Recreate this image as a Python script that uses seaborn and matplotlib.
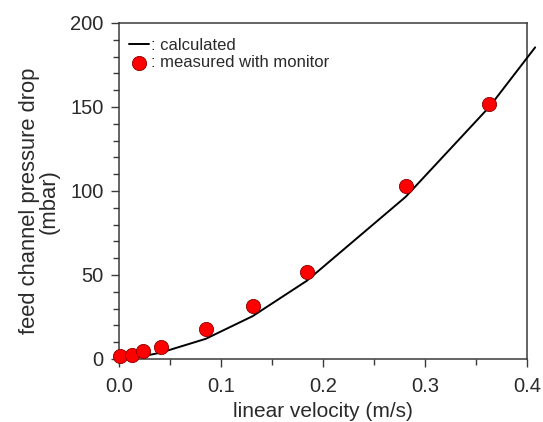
import seaborn as sns
import matplotlib.pyplot as plt
from matplotlib.ticker import MultipleLocator

# data
calc_velocity = [0.0, 0.013, 0.024, 0.041, 0.085, 0.131, 0.184, 0.281, 0.363, 0.408]
calc_pressure = [0.0, 0.8, 1.7, 3.8, 12.0, 25.5, 46.5, 96.5, 150.0, 185.5]

meas_velocity = [0.001, 0.013, 0.024, 0.041, 0.085, 0.131, 0.184, 0.281, 0.363]
meas_pressure = [2.0, 2.5, 4.5, 7.0, 18.0, 31.5, 52.0, 103.0, 151.5]

sns.set_theme(style="ticks")
plt.rcParams['font.family'] = ['Liberation Sans', 'DejaVu Sans']

txt = "#2a2a2a"
fig = plt.figure(figsize=(5.43, 4.22), dpi=100)
ax = fig.add_axes([119 / 543, 1 - 359 / 422, 408 / 543, 336 / 422])

sns.lineplot(x=calc_velocity, y=calc_pressure, ax=ax, color="black", lw=1.4,
             label=": calculated", clip_on=False, zorder=3, sort=False)
sns.scatterplot(x=meas_velocity, y=meas_pressure, ax=ax, color="#ff0000",
                edgecolor="#8a0000", linewidth=0.6, s=105, zorder=4,
                label=": measured with monitor", clip_on=False)

ax.set_xlim(0, 0.4)
ax.set_ylim(0, 200)
ax.xaxis.set_major_locator(MultipleLocator(0.1))
ax.xaxis.set_minor_locator(MultipleLocator(0.05))
ax.yaxis.set_major_locator(MultipleLocator(50))
ax.yaxis.set_minor_locator(MultipleLocator(10))
ax.xaxis.set_major_formatter(plt.FormatStrFormatter("%.1f"))

for s in ax.spines.values():
    s.set_visible(True)
    s.set_color("#3a3a3a")
    s.set_linewidth(1.1)

ax.tick_params(which="major", direction="out", length=6, width=1.0,
               color="#3a3a3a", labelsize=14.5, labelcolor=txt, pad=5)
ax.tick_params(which="minor", direction="out", length=4, width=1.0, color="#3a3a3a")
ax.tick_params(axis="x", which="major", pad=7)

ax.set_xlabel("linear velocity (m/s)", fontsize=15, color=txt, labelpad=4)
ax.set_ylabel("feed channel pressure drop\n(mbar)", fontsize=15.8, color=txt,
              labelpad=8, linespacing=0.92)
ax.yaxis.label.set_y(0.47)

ax.legend(loc="upper left", bbox_to_anchor=(-0.013, 1.0), frameon=False,
          fontsize=12, handlelength=1.2, handletextpad=0.15, labelspacing=0.15,
          borderpad=0.4, labelcolor=txt)

fig.savefig("out.png", dpi=100)
